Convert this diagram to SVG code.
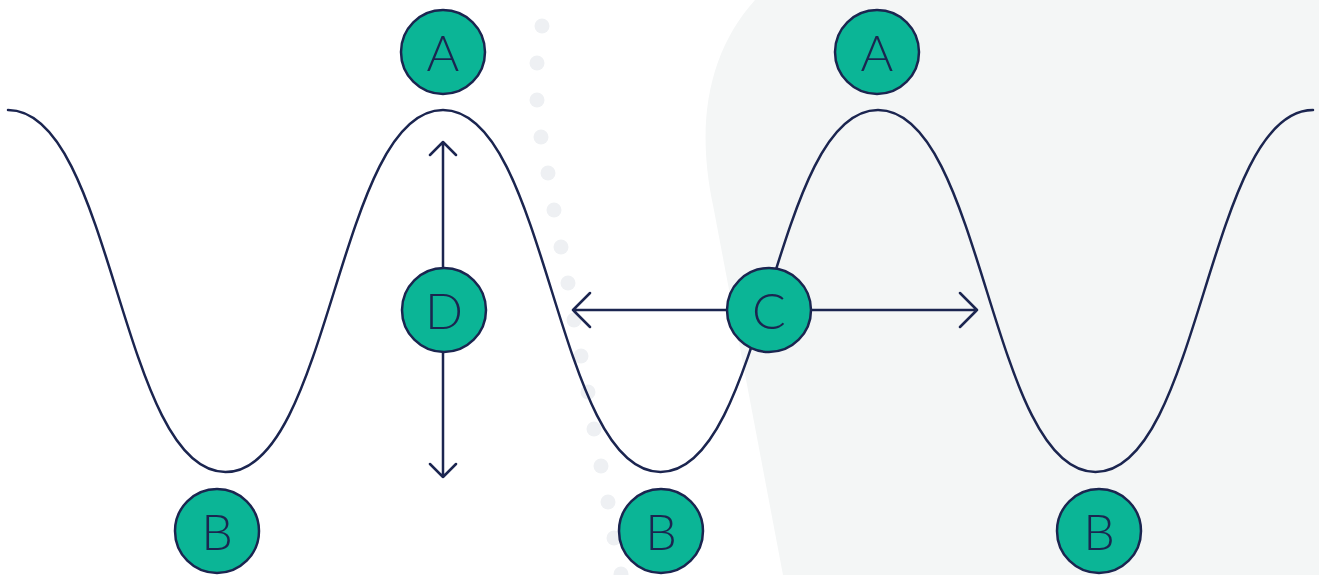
<svg xmlns="http://www.w3.org/2000/svg" width="1319" height="575" viewBox="0 0 1319 575">
<style>
.dot{fill:#eef0f3}
.wave{fill:none;stroke:#1b2550;stroke-width:2.5;stroke-linecap:round}
.conn{fill:none;stroke:#1b2550;stroke-width:2.5;stroke-linecap:round;stroke-linejoin:round}
.node circle{fill:#0bb596;stroke:#1b2550;stroke-width:2.5}
.node text{fill:#1b2550;font-family:Lato,"Liberation Sans",sans-serif;font-weight:300;font-size:50px;text-anchor:middle;dominant-baseline:central}
</style>
<rect width="1319" height="575" fill="#ffffff"/>
<path d="M755,0 C710,50 695,120 713,205 L783,575 L1319,575 L1319,0 Z" fill="#f4f6f6"/>
<g id="dots">
<circle class="dot" cx="542" cy="26" r="7.5"/>
<circle class="dot" cx="537" cy="63" r="7.5"/>
<circle class="dot" cx="537" cy="100" r="7.5"/>
<circle class="dot" cx="541" cy="137" r="7.5"/>
<circle class="dot" cx="548" cy="173" r="7.5"/>
<circle class="dot" cx="554" cy="210" r="7.5"/>
<circle class="dot" cx="561" cy="247" r="7.5"/>
<circle class="dot" cx="568" cy="283" r="7.5"/>
<circle class="dot" cx="574" cy="320" r="7.5"/>
<circle class="dot" cx="581" cy="356" r="7.5"/>
<circle class="dot" cx="588" cy="392" r="7.5"/>
<circle class="dot" cx="594" cy="429" r="7.5"/>
<circle class="dot" cx="601" cy="466" r="7.5"/>
<circle class="dot" cx="608" cy="502" r="7.5"/>
<circle class="dot" cx="614" cy="538" r="7.5"/>
<circle class="dot" cx="621" cy="574" r="7.5"/>
</g>
<path id="wave" class="wave" d="M8,110 C113,110 120.5,472 225.5,472 S338,110 443,110 S555.5,472 660.5,472 S773,110 878,110 S990.5,472 1095.5,472 S1208,110 1313,110"/>
<g id="connectors">
<path class="conn" d="M443,142 L443,477 M430,155 L443,142 L456,155 M430,464 L443,477 L456,464"/>
<path class="conn" d="M573,310 L977,310 M590,293 L573,310 L590,327 M960,293 L977,310 L960,327"/>
</g>
<g id="nodeA1" class="node"><circle cx="443" cy="52" r="42"/><text x="443" y="52">A</text></g>
<g id="nodeA2" class="node"><circle cx="877" cy="52" r="42"/><text x="877" y="52">A</text></g>
<g id="nodeB1" class="node"><circle cx="217" cy="531" r="42"/><text x="217" y="531">B</text></g>
<g id="nodeB2" class="node"><circle cx="661" cy="531" r="42"/><text x="661" y="531">B</text></g>
<g id="nodeB3" class="node"><circle cx="1099" cy="531" r="42"/><text x="1099" y="531">B</text></g>
<g id="nodeC" class="node"><circle cx="769" cy="310" r="42"/><text x="769" y="310">C</text></g>
<g id="nodeD" class="node"><circle cx="444" cy="310" r="42"/><text x="444" y="310">D</text></g>
</svg>
